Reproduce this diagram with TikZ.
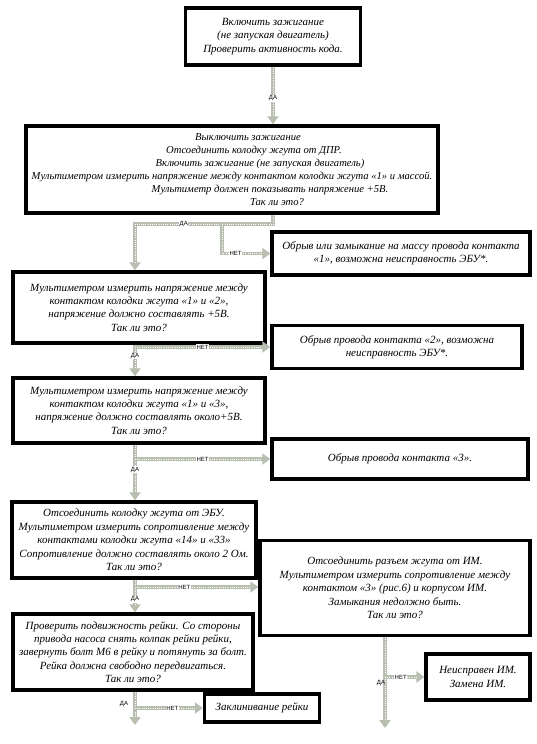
\documentclass[tikz,border=0pt]{standalone}
\usepackage{fontspec}
\setmainfont{Liberation Serif}
\newfontfamily\lblfont{Liberation Sans}
\usepackage{tikz}
\usetikzlibrary{arrows.meta, positioning}
\definecolor{linkgray}{RGB}{184,190,176}

\begin{document}
\begin{tikzpicture}[x=1pt, y=-1pt,
  box/.style={rectangle, draw, line width=3.4pt, fill=white,
              align=center, inner sep=1pt,
              font=\itshape\fontsize{11}{13.4}\selectfont},
  link/.style={line width=3.5pt, draw=linkgray,
               -{Triangle[length=8pt, width=11pt]},
               postaction={draw=white, line width=0.6pt, -,
                           dash pattern=on 0.6pt off 1.6pt, shorten >=8pt}},
  lbl/.style={fill=white, inner sep=0.6pt, font=\lblfont\fontsize{6}{7}\selectfont}
]
\useasboundingbox (0,0) rectangle (536,744);
\coordinate (spine) at (135,0);

% main checks
\node[box, minimum width=175, minimum height=57] (chk1) at (273,36.5)
  {Включить зажигание\\(не запуская двигатель)\\Проверить активность кода.};
\node[box, minimum width=412, minimum height=87, font=\itshape\fontsize{10.6}{13}\selectfont] (chk2) at (232,169.5)
  {\hspace*{32pt}Выключить зажигание\\\hspace*{44pt}Отсоединить колодку жгута от ДПР.\\
   \hspace*{56pt}Включить зажигание (не запуская двигатель)\\
   Мультиметром измерить напряжение между контактом колодки  жгута «1» и массой.\\
   \hspace*{76pt}Мультиметр должен показывать напряжение +5В.\\\hspace*{90pt}Так ли это?};
\node[box, minimum width=252, minimum height=71] (chk3) at (139,307.5)
  {Мультиметром измерить напряжение между\\контактом колодки жгута «1» и «2»,\\
   напряжение должно составлять +5В.\\Так ли это?};
\node[box, minimum width=252, minimum height=65] (chk4) at (139,410.5)
  {Мультиметром измерить напряжение между\\контактом колодки жгута «1» и «3»,\\
   напряжение должно составлять около+5В.\\Так ли это?};
\node[box, minimum width=244, minimum height=76] (chk5) at (134,540)
  {Отсоединить колодку жгута от ЭБУ.\\Мультиметром измерить сопротивление между\\
   контактами колодки жгута  «14» и «33»\\Сопротивление должно составлять около 2 Ом.\\
   Так ли это?};
\node[box, minimum width=240, minimum height=76] (chk6) at (133,652)
  {Проверить подвижность рейки. Со стороны\\привода насоса снять колпак рейки рейки,\\
   завернуть болт М6 в рейку и потянуть за болт.\\Рейка должна свободно передвигаться.\\
   Так ли это?};

% faults
\node[box, minimum width=258, minimum height=43] (err1) at (401,253.5)
  {Обрыв или замыкание на массу провода контакта\\«1», возможна неисправность ЭБУ*.};
\node[box, minimum width=250, minimum height=43] (err2) at (397,347)
  {Обрыв провода контакта «2», возможна\\неисправность ЭБУ*.};
\node[box, minimum width=256, minimum height=40] (err3) at (400,459)
  {Обрыв провода контакта «3».};
\node[box, minimum width=270, minimum height=95] (err4) at (395,588)
  {Отсоединить разъем жгута от ИМ.\\Мультиметром измерить сопротивление между\\
   контактом «3» (рис.6) и корпусом ИМ.\\Замыкания недолжно быть.\\Так ли это?};
\node[box, minimum width=115, minimum height=28] (err5) at (262,708)
  {Заклинивание рейки};
\node[box, minimum width=104, minimum height=46] (err6) at (478,677)
  {Неисправен ИМ.\\Замена ИМ.};

% yes / no links
\coordinate (j1) at (222,224);
\coordinate (end6) at (135,725);
\coordinate (end4) at (385,728);
\draw[link] (chk1.south) -- node[lbl, pos=0.55]{ДА} (chk1.south |- chk2.north);
\draw[link] (chk2.south -| chk1.south) |- (j1) -| node[lbl, pos=0.22]{ДА} (chk3.north -| spine);
\draw[link] (j1) |- node[lbl, pos=0.64]{НЕТ} (err1.west);
\draw[link] (chk3.south -| spine) -- node[lbl, pos=0.35]{ДА} (chk4.north -| spine);
\draw[link] (spine |- err2.west) -- node[lbl, pos=0.5]{НЕТ} (err2.west);
\draw[link] (chk4.south -| spine) -- node[lbl, pos=0.45]{ДА} (chk5.north -| spine);
\draw[link] (spine |- err3.west) -- node[lbl, pos=0.5]{НЕТ} (err3.west);
\draw[link] (chk5.south -| spine) -- node[lbl, pos=0.6]{ДА} (chk6.north -| spine);
\draw[link] (spine |- 0,587) -- node[lbl, pos=0.4]{НЕТ} (err4.west |- 0,587);
\draw[link] (chk6.south -| spine) -- (end6);
\draw[link] (spine |- err5.west) -- node[lbl, pos=0.55]{НЕТ} (err5.west);
\node[lbl, fill=none] (da6) at (124,704) {ДА};
\draw[link] (err4.south -| end4) -- (end4);
\draw[link] (end4 |- err6.west) -- node[lbl, pos=0.4]{НЕТ} (err6.west);
\node[lbl, fill=none] (da7) at (381,683) {ДА};
\end{tikzpicture}
\end{document}
